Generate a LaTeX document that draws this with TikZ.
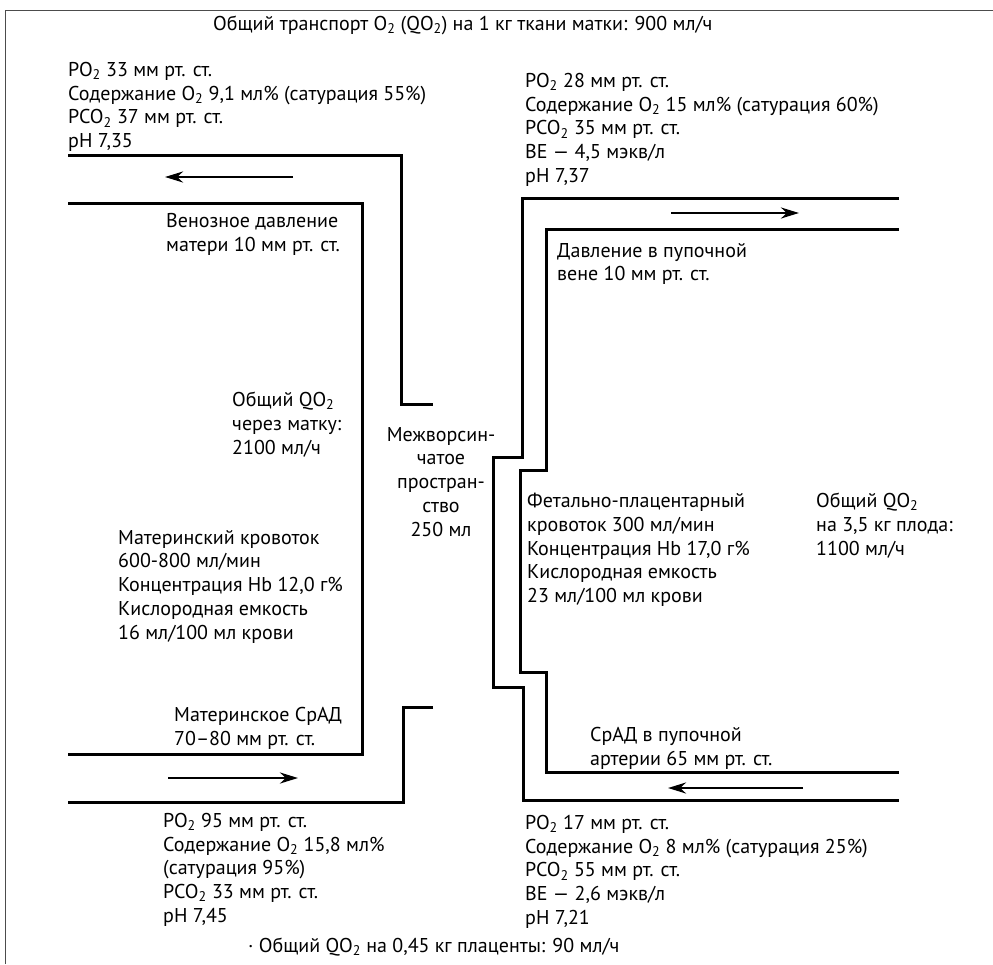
\documentclass[tikz,border=0pt]{standalone}
\usepackage{fontspec}
\setmainfont{PT Sans}
\usetikzlibrary{arrows.meta}
\newcommand{\subtwo}{\textsubscript{2}}

\begin{document}
\begin{tikzpicture}[x=1pt,y=-1pt,line join=miter,>={Stealth[length=18pt,width=11pt]},
  wall/.style={line width=3pt},
  flow/.style={->,line width=2.6pt},
  lbl/.style={inner sep=0pt,align=left,anchor=north west,font=\fontsize{20}{23.75}\selectfont}]
\useasboundingbox (0,0) rectangle (993,964);
% frame
\draw[gray!60!black,line width=1pt] (5,964)--(5,10)--(993,10);
\path
(293,177) coordinate (MV1) (165,177) coordinate (MV2)
(168,778) coordinate (MA1) (298,778) coordinate (MA2)
(671,213) coordinate (FV1) (799,213) coordinate (FV2)
(803,788) coordinate (FA1) (668,788) coordinate (FA2)
;
% maternal side
\draw[wall] (68,155)--(401,155)--(401,404)--(433,404);
\draw[wall] (68,203)--(362,203)--(362,754)--(68,754);
\draw[wall] (433,707)--(403,707)--(403,802)--(68,802);
% fetal side
\draw[wall] (899,198)--(522,198)--(522,457)--(493,457)--(493,687)--(523,687)--(523,800)--(899,800);
\draw[wall] (899,229)--(546,229)--(546,470)--(520,470)--(520,672)--(546,672)--(546,772)--(899,772);
\foreach \a/\b in {MV1/MV2, MA1/MA2, FV1/FV2, FA1/FA2}
\draw[flow] (\a)--(\b);
% labels
\node[lbl,anchor=west] (title) at (213,25) {Общий транспорт O\subtwo{} (QO\subtwo) на 1 кг ткани матки: 900 мл/ч};
\node[lbl] (mvein) at (68,62) {PO\subtwo{} 33 мм рт. ст.\\Содержание O\subtwo{} 9,1 мл\% (сатурация 55\%)\\PCO\subtwo{} 37 мм рт. ст.\\pH 7,35};
\node[lbl] (fvein) at (525,73) {PO\subtwo{} 28 мм рт. ст.\\Содержание O\subtwo{} 15 мл\% (сатурация 60\%)\\PCO\subtwo{} 35 мм рт. ст.\\BE — 4,5 мэкв/л\\pH 7,37};
\node[lbl] (mvp) at (166,213) {Венозное давление\\матери 10 мм рт. ст.};
\node[lbl] (fvp) at (557,243) {Давление в пупочной\\вене 10 мм рт. ст.};
\node[lbl] (uterus) at (232,392) {Общий QO\subtwo\\через матку:\\2100 мл/ч};
\node[lbl,anchor=north,align=center] (space) at (441,427) {Межворсин-\\чатое\\простран-\\ство\\250 мл};
\node[lbl] (fflow) at (527,493) {Фетально-плацентарный\\кровоток 300 мл/мин\\Концентрация Hb 17,0 г\%\\Кислородная емкость\\23 мл/100 мл крови};
\node[lbl] (fetus) at (816,493) {Общий QO\subtwo\\на 3,5 кг плода:\\1100 мл/ч};
\node[lbl] (mflow) at (118,530) {Материнский кровоток\\600-800 мл/мин\\Концентрация Hb 12,0 г\%\\Кислородная емкость\\16 мл/100 мл крови};
\node[lbl] (map) at (174,707) {Материнское СрАД\\70–80 мм рт. ст.};
\node[lbl] (fap) at (590,727) {СрАД в пупочной\\артерии 65 мм рт. ст.};
\node[lbl] (mart) at (163,813) {PO\subtwo{} 95 мм рт. ст.\\Содержание O\subtwo{} 15,8 мл\%\\(сатурация 95\%)\\PCO\subtwo{} 33 мм рт. ст.\\pH 7,45};
\node[lbl] (fart) at (525,815) {PO\subtwo{} 17 мм рт. ст.\\Содержание O\subtwo{} 8 мл\% (сатурация 25\%)\\PCO\subtwo{} 55 мм рт. ст.\\BE — 2,6 мэкв/л\\pH 7,21};
\node[lbl,anchor=west] (placenta) at (248,947) {· Общий QO\subtwo{} на 0,45 кг плаценты: 90 мл/ч};
\end{tikzpicture}
\end{document}
